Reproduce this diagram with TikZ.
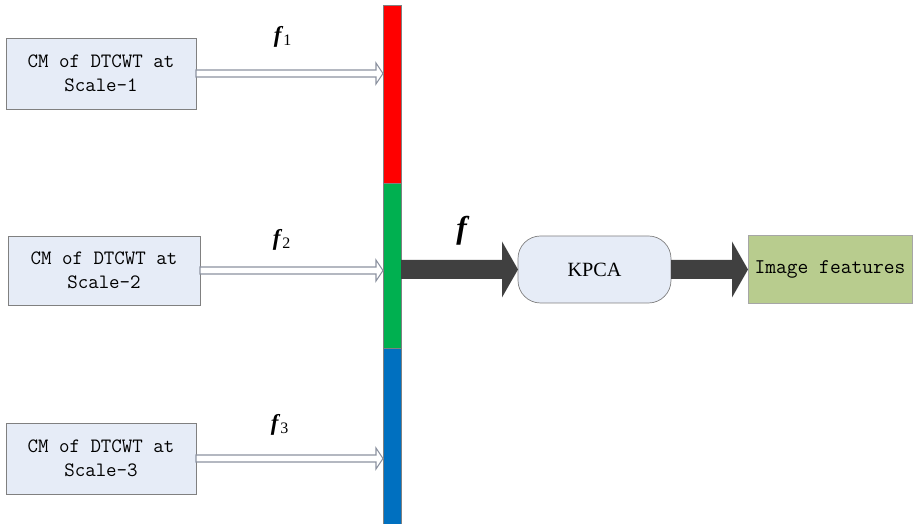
\documentclass[tikz,border=0pt]{standalone}
\usepackage{fontspec}
\setmainfont{Liberation Serif}
\usepackage{tikz}
\usetikzlibrary{positioning, calc}
\definecolor{box_blue}{RGB}{230, 236, 247}
\definecolor{box_line}{RGB}{128, 128, 128}
\definecolor{bar_red}{RGB}{255, 0, 0}
\definecolor{bar_green}{RGB}{0, 176, 80}
\definecolor{bar_blue}{RGB}{0, 112, 192}
\definecolor{dark_arrow}{RGB}{64, 64, 64}
\definecolor{feat_green}{RGB}{184, 204, 142}
\definecolor{hollow_line}{RGB}{140, 146, 160}

\begin{document}
\begin{tikzpicture}[
        every node/.style={inner sep=2pt, outer sep=0pt},
        blocco/.style={draw=box_line, fill=box_blue, minimum width=3.8cm, minimum height=1.42cm,
            align=center, font=\ttfamily\fontsize{11.6}{13.6}\selectfont},
        barra/.style={draw=box_line, line width=0.4pt, minimum width=0.36cm, inner sep=0pt},
        vuota/.style={draw=hollow_line, fill=white, line width=0.6pt},
        piena/.style={fill=dark_arrow, draw=none},
        etichetta/.style={font=\fontsize{13}{15}\selectfont}
    ]
        % Cornice della figura
        \useasboundingbox (0, 0) rectangle (18.32, 10.48);

        % -------- Blocchi di ingresso --------
        \node[blocco] (b1) at (2.02, 9.01) {CM of DTCWT at\\Scale-1};
        \node[blocco, minimum width=3.84cm, minimum height=1.38cm] (b2) at (2.08, 5.07) {CM of DTCWT at\\Scale-2};
        \node[blocco] (b3) at (2.02, 1.31) {CM of DTCWT at\\Scale-3};

        % -------- Barra concatenata --------
        \node[barra, fill=bar_red, minimum height=3.56cm] (barR) at (7.84, 8.60) {};
        \node[barra, fill=bar_green, minimum height=3.30cm] (barG) at (7.84, 5.17) {};
        \node[barra, fill=bar_blue, minimum height=3.52cm] (barB) at (7.84, 1.76) {};

        % -------- KPCA e uscita --------
        \node[draw=box_line, fill=box_blue, rounded corners=0.45cm, minimum width=3.06cm,
            minimum height=1.34cm, font=\fontsize{11.5}{13}\selectfont] (kpca) at (11.89, 5.09) {KPCA};
        \node[draw=box_line!70, fill=feat_green, minimum width=3.28cm, minimum height=1.36cm,
            font=\ttfamily\fontsize{11.9}{13}\selectfont] (feat) at (16.60, 5.09) {Image features};

        % Frecce vuote verso la barra
        \foreach \b in {b1, b2, b3}{
            \draw[vuota] ($(\b.east)+(0, 0.07)$) -- ($(\b.east -| barR.west)+(-0.14, 0.07)$)
                -- ($(\b.east -| barR.west)+(-0.14, 0.21)$) -- (\b.east -| barR.west)
                -- ($(\b.east -| barR.west)+(-0.14, -0.21)$) -- ($(\b.east -| barR.west)+(-0.14, -0.07)$)
                -- ($(\b.east)+(0, -0.07)$) -- cycle;
        }

        % Frecce piene
        \coordinate (s1) at (kpca.west -| barG.east);
        \foreach \da/\a in {s1/kpca.west, kpca.east/feat.west}{
            \fill[piena] ($(\da)+(0, 0.19)$) -- ($(\a)+(-0.32, 0.19)$) -- ($(\a)+(-0.32, 0.56)$)
                -- (\a) -- ($(\a)+(-0.32, -0.56)$) -- ($(\a)+(-0.32, -0.19)$)
                -- ($(\da)+(0, -0.19)$) -- cycle;
        }

        % -------- Etichette --------
        \node[etichetta] (f1) at (5.66, 9.74) {\textbf{\textit{f}}\textsubscript{1}};
        \node[etichetta] (f2) at (5.64, 5.68) {\textbf{\textit{f}}\textsubscript{2}};
        \node[etichetta] (f3) at (5.60, 1.98) {\textbf{\textit{f}}\textsubscript{3}};
        \node[font=\fontsize{18}{20}\selectfont] (f) at (9.26, 5.86) {\textbf{\textit{f}}};

    \end{tikzpicture}
\end{document}
